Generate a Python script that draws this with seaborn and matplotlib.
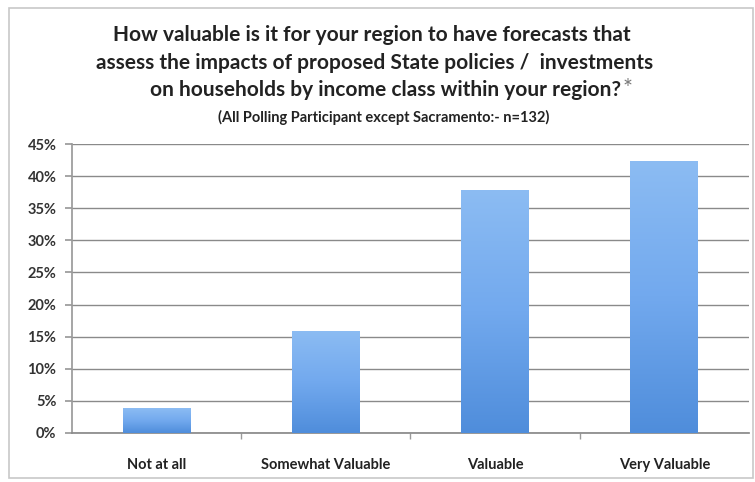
import numpy as np
import pandas as pd
import matplotlib
matplotlib.use("Agg")
import matplotlib.pyplot as plt
import seaborn as sns
from matplotlib.ticker import PercentFormatter, FixedLocator
from matplotlib.patches import Rectangle

categories = ["Not at all", "Somewhat Valuable", "Valuable", "Very Valuable"]
values = [3.8, 15.9, 37.9, 42.4]
yticks = [0, 5, 10, 15, 20, 25, 30, 35, 40, 45]

title_lines = ["How valuable is it for your region to have forecasts that",
               "assess the impacts of proposed State policies /  investments",
               "on households by income class within your region?"]
subtitle = "(All Polling Participant except Sacramento:- n=132)"

sns.set_theme(style="white")
plt.rcParams["font.family"] = ["Lato", "DejaVu Sans"]

df = pd.DataFrame({"cat": categories, "val": values})

fig = plt.figure(figsize=(7.55, 4.82), dpi=100)
fig.patch.set_facecolor("white")
ax = fig.add_axes([0.095, 0.102, 0.897, 0.599])

sns.barplot(data=df, x="cat", y="val", color="#6aa2e8", width=0.4, ax=ax,
            saturation=1, zorder=3)

# gradient fill clipped to each bar
grad = np.linspace(0, 1, 256).reshape(-1, 1)
cmap = matplotlib.colors.LinearSegmentedColormap.from_list(
    "g", ["#4f8ddb", "#72a9ee", "#8cbcf3"])
for p in ax.patches:
    x0, y0 = p.get_x(), p.get_y()
    w, h = p.get_width(), p.get_height()
    im = ax.imshow(grad, extent=[x0, x0 + w, y0, y0 + h], origin="lower",
                   cmap=cmap, aspect="auto", zorder=4)
    im.set_clip_path(p)
    p.set_edgecolor("none")

ax.set_xlim(-0.5, 3.5)
ax.set_ylim(0, 45)
ax.yaxis.set_major_locator(FixedLocator(yticks))
ax.yaxis.set_major_formatter(PercentFormatter(decimals=0))
ax.grid(axis="y", color="#8a8a8a", linewidth=1.0, zorder=0)
ax.set_axisbelow(True)
for s in ["top", "right"]:
    ax.spines[s].set_visible(False)
ax.spines["left"].set_color("#9a9a9a")
ax.spines["bottom"].set_color("#8a8a8a")
ax.set_xlabel("")
ax.set_ylabel("")
ax.tick_params(axis="y", which="major", left=True, length=5, color="#9a9a9a",
               labelsize=10.5, labelcolor="#333333", pad=6)
ax.tick_params(axis="x", which="major", bottom=False, labelsize=10.5,
               labelcolor="#222222", pad=12)
ax.set_xticks([0.5, 1.5, 2.5], minor=True)
ax.tick_params(axis="x", which="minor", bottom=True, length=4, color="#9a9a9a")
for lbl in ax.get_xticklabels() + ax.get_yticklabels():
    lbl.set_fontweight("bold")

W, H = 755.0, 482.0
line_pos = [(372, 35), (375, 63), (386, 90)]
for txt, (px, py) in zip(title_lines, line_pos):
    fig.text(px / W, 1 - py / H, txt, ha="center", va="center", fontsize=15,
             fontweight="bold", color="#222222")
fig.text(623 / W, 1 - 88 / H, "*", ha="left", va="center", fontsize=17,
         color="#777777")
fig.text(384 / W, 1 - 117 / H, subtitle, ha="center", va="center",
         fontsize=10.5, fontweight="bold", color="#222222")

# chart border
fig.patches.append(Rectangle((0.012, 0.008), 0.985, 0.975, transform=fig.transFigure,
                             fill=False, edgecolor="#c8c8c8", linewidth=1.2))

fig.savefig("out.png", dpi=100, facecolor="white")
